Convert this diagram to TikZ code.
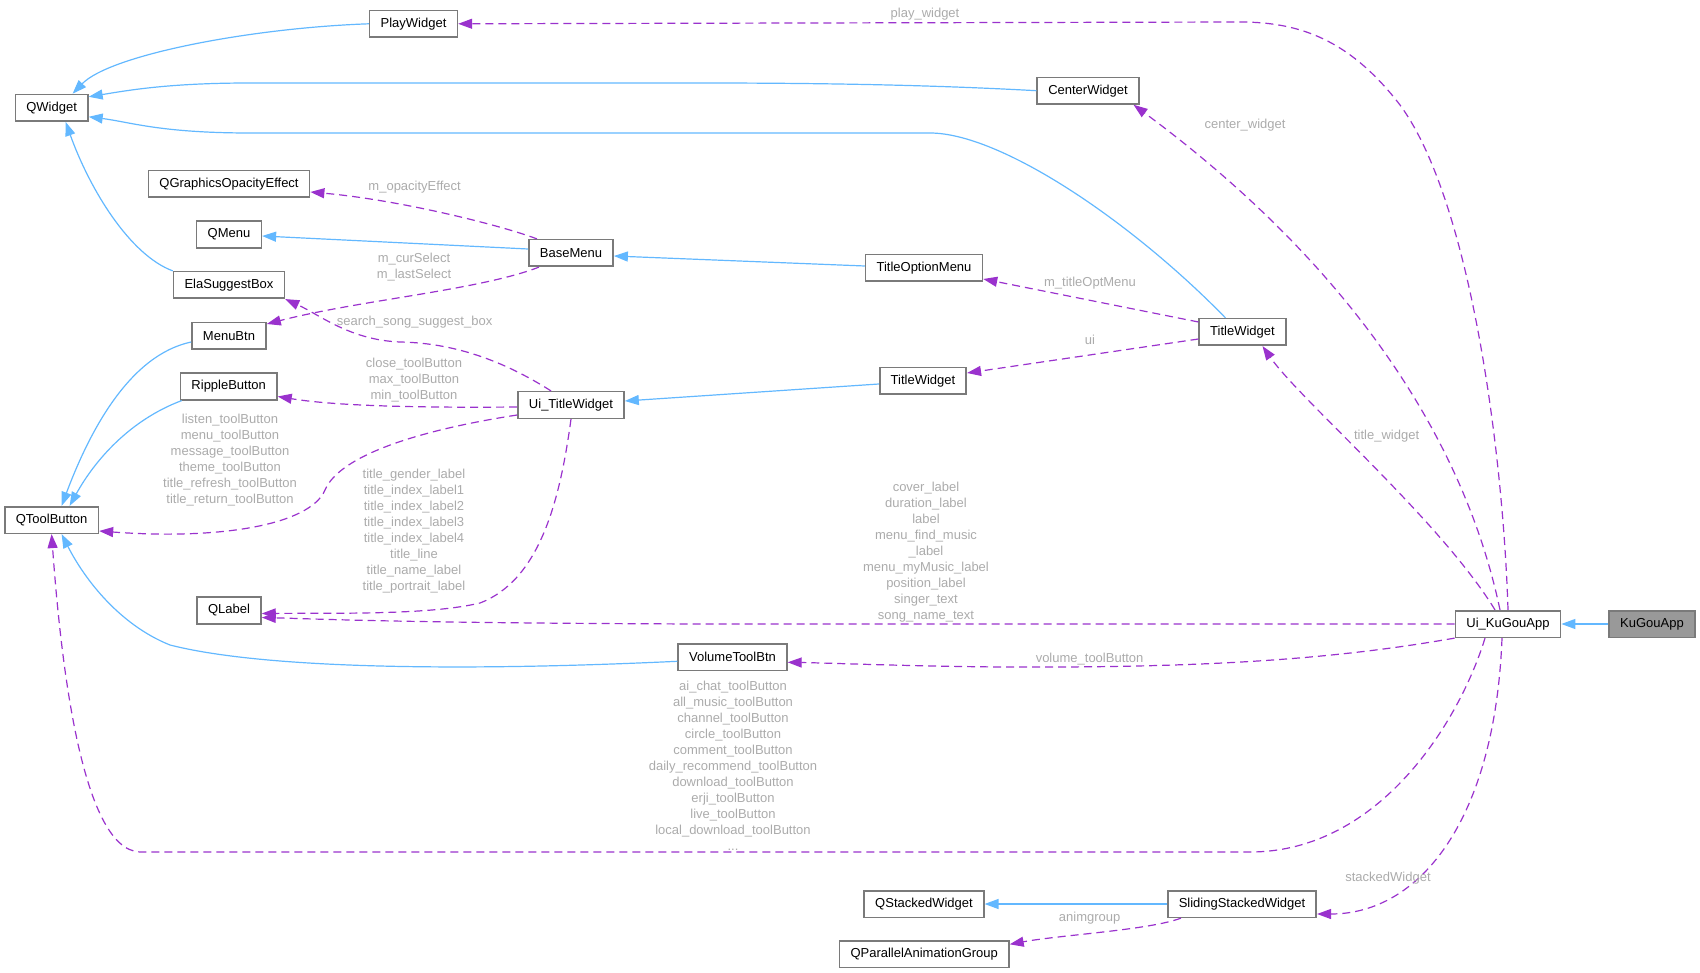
\documentclass[tikz,border=0pt]{standalone}
\usepackage{fontspec}
\setmainfont{Liberation Sans}
\usepackage{xcolor}
\usetikzlibrary{arrows.meta}

\definecolor{inhblue}{HTML}{63B8FF}
\definecolor{usepurple}{HTML}{9A32CD}
\definecolor{lblgrey}{HTML}{ABABAB}
\definecolor{boxedge}{HTML}{7A7A7A}
\definecolor{curfill}{HTML}{999999}

\begin{document}
\begin{tikzpicture}[
    x=1pt, y=-1pt,
    >={Triangle[length=14pt,width=10pt]},
    cls/.style={draw=boxedge, line width=1.6pt, fill=white,
                minimum height=26.6pt, inner xsep=11pt,
                font=\fontsize{13}{16}\selectfont},
    inh/.style={->, draw=inhblue, line width=1.2pt},
    use/.style={->, draw=usepurple, line width=1.2pt, dash pattern=on 8pt off 5pt},
    lbl/.style={text=lblgrey, align=center, inner sep=0pt,
                font=\fontsize{13}{16}\selectfont}
]
    \useasboundingbox (0,0) rectangle (1700,973);

    % classes
    \node[cls] (playW)     at (413.5,23.8)  {PlayWidget};
    \node[cls] (qwidget)   at (51.6,107.8)  {QWidget};
    \node[cls] (centerW)   at (1088,90.7)   {CenterWidget};
    \node[cls] (qgoe)      at (229,184)     {QGraphicsOpacityEffect};
    \node[cls] (qmenu)     at (229,234.5)   {QMenu};
    \node[cls] (baseMenu)  at (571,253)     {BaseMenu};
    \node[cls] (titleOpt)  at (924,268)     {TitleOptionMenu};
    \node[cls] (elaBox)    at (229,285)     {ElaSuggestBox};
    \node[cls] (menuBtn)   at (229,336)     {MenuBtn};
    \node[cls] (titleW)    at (1242.5,332)  {TitleWidget};
    \node[cls] (rippleBtn) at (228.7,386.5) {RippleButton};
    \node[cls] (titleWns)  at (923,381)     {TitleWidget};
    \node[cls] (uiTitle)   at (571,405)     {Ui\_TitleWidget};
    \node[cls] (qtoolBtn)  at (51.6,520)    {QToolButton};
    \node[cls] (qlabel)    at (229,610.5)   {QLabel};
    \node[cls] (uiKugou)   at (1508,624)    {Ui\_KuGouApp};
    \node[cls, fill=curfill] (kugou) at (1652,624) {KuGouApp};
    \node[cls] (volBtn)    at (732.5,657.3) {VolumeToolBtn};
    \node[cls] (qstacked)  at (924,904)     {QStackedWidget};
    \node[cls] (slideW)    at (1242,904)    {SlidingStackedWidget};
    \node[cls] (qpag)      at (924.2,954.3) {QParallelAnimationGroup};

    % inheritance
    \draw[inh] (playW.west) .. controls (250,28) and (110,55) .. ([xshift=21pt]qwidget.north);
    \draw[inh] (centerW.west) .. controls (950,86) and (850,83) .. (700,83) -- (250,83)
        .. controls (170,83) and (130,90) .. ([yshift=11pt]qwidget.east);
    \draw[inh] ([xshift=-17pt]titleW.north) .. controls (1130,220) and (1000,133) .. (930,133)
        -- (250,133) .. controls (160,133) and (130,122) .. ([yshift=-9pt]qwidget.east);
    \draw[inh] (elaBox.north west) .. controls (130,255) and (90,190) .. ([xshift=14pt]qwidget.south);
    \draw[inh] ([yshift=4pt]baseMenu.west) -- ([yshift=-1.5pt]qmenu.east);
    \draw[inh] ([yshift=2pt]titleOpt.west) -- ([yshift=-3pt]baseMenu.east);
    \draw[inh] ([yshift=-3pt]titleWns.west) -- ([yshift=4pt]uiTitle.east);
    \draw[inh] ([yshift=-6pt]menuBtn.west) .. controls (130,355) and (90,430) .. ([xshift=10pt]qtoolBtn.north);
    \draw[inh] ([xshift=2pt]rippleBtn.south west) .. controls (130,420) and (95,460) .. ([xshift=18pt]qtoolBtn.north);
    \draw[inh] ([yshift=-4pt]volBtn.west) .. controls (450,672) and (260,668) .. (170,645)
        .. controls (120,625) and (85,580) .. ([xshift=10pt]qtoolBtn.south);
    \draw[inh] (slideW.west) -- (qstacked.east);
    \draw[inh] (kugou.west) -- (uiKugou.east);

    % usage
    \draw[use] (uiKugou.north) .. controls (1503,450) and (1470,200) .. (1400,105)
        .. controls (1350,40) and (1300,22) .. (1240,22) -- (playW.east);
    \draw[use] ([xshift=-8pt]uiKugou.north) .. controls (1460,420) and (1330,250) .. ([xshift=-6pt]centerW.south east);
    \draw[use] ([xshift=-13pt]uiKugou.north) .. controls (1440,520) and (1300,400) .. ([xshift=20pt]titleW.south);
    \draw[use] (uiKugou.west) -- (700,624) .. controls (400,623) and (320,619) .. ([yshift=-7pt]qlabel.east);
    \draw[use] (uiKugou.south west) .. controls (1330,660) and (1200,668) .. (1000,667)
        .. controls (900,666) and (830,663) .. ([yshift=-5pt]volBtn.east);
    \draw[use] ([xshift=-23pt]uiKugou.south) .. controls (1460,720) and (1380,852) .. (1250,852)
        -- (140,852) .. controls (80,850) and (60,650) .. (qtoolBtn.south);
    \draw[use] ([xshift=-6pt]uiKugou.south) .. controls (1495,820) and (1420,914) .. ([yshift=-10pt]slideW.east);
    \draw[use] ([xshift=14pt]slideW.south west) .. controls (1150,930) and (1060,935) .. ([yshift=10pt]qpag.east);
    \draw[use] ([yshift=10pt]titleW.west) -- ([yshift=-11pt]titleOpt.east);
    \draw[use] ([yshift=-7pt]titleW.west) -- ([yshift=8pt]titleWns.east);
    \draw[use] ([xshift=-34pt]baseMenu.north) .. controls (500,225) and (400,200) .. ([yshift=-8pt]qgoe.east);
    \draw[use] ([xshift=-32pt]baseMenu.south) .. controls (480,290) and (360,300) .. ([yshift=12pt]menuBtn.east);
    \draw[use] ([xshift=-20pt]uiTitle.north) .. controls (510,365) and (460,343) .. (400,342)
        .. controls (350,340) and (320,315) .. (elaBox.south east);
    \draw[use] ([yshift=-2pt]uiTitle.west) .. controls (400,408) and (330,405) .. ([yshift=-10pt]rippleBtn.east);
    \draw[use] ([yshift=-10pt]uiTitle.west) .. controls (420,430) and (340,455) .. (325,490)
        .. controls (310,525) and (220,540) .. ([yshift=-11pt]qtoolBtn.east);
    \draw[use] (uiTitle.south) .. controls (560,500) and (540,580) .. (480,603)
        .. controls (430,615) and (340,613) .. ([yshift=-3pt]qlabel.east);

    % member names
    \node[lbl] (lPlay)   at (925,14)      {play\_widget};
    \node[lbl] (lCenter) at (1245,125)    {center\_widget};
    \node[lbl] (lTitle)  at (1386.6,436)  {title\_widget};
    \node[lbl] (lOpt)    at (1090,282.7)  {m\_titleOptMenu};
    \node[lbl] (lUi)     at (1090,340)    {ui};
    \node[lbl] (lOpac)   at (414.6,186.7) {m\_opacityEffect};
    \node[lbl] (lSel)    at (414,267.4)   {m\_curSelect\\m\_lastSelect};
    \node[lbl] (lSearch) at (414.6,322)   {search\_song\_suggest\_box};
    \node[lbl] (lRipple) at (414,380)     {close\_toolButton\\max\_toolButton\\min\_toolButton};
    \node[lbl] (lTool)   at (230,459.7)   {listen\_toolButton\\menu\_toolButton\\message\_toolButton\\
        theme\_toolButton\\title\_refresh\_toolButton\\title\_return\_toolButton};
    \node[lbl] (lTLabel) at (414,531)     {title\_gender\_label\\title\_index\_label1\\title\_index\_label2\\
        title\_index\_label3\\title\_index\_label4\\title\_line\\title\_name\_label\\title\_portrait\_label};
    \node[lbl] (lKLabel) at (926,551.7)   {cover\_label\\duration\_label\\label\\menu\_find\_music\\\_label\\
        menu\_myMusic\_label\\position\_label\\singer\_text\\song\_name\_text};
    \node[lbl] (lVol)    at (1089.6,658.7) {volume\_toolButton};
    \node[lbl] (lKTool)  at (733,765.7)   {ai\_chat\_toolButton\\all\_music\_toolButton\\channel\_toolButton\\
        circle\_toolButton\\comment\_toolButton\\daily\_recommend\_toolButton\\download\_toolButton\\
        erji\_toolButton\\live\_toolButton\\local\_download\_toolButton\\...};
    \node[lbl] (lStack)  at (1388,878)    {stackedWidget};
    \node[lbl] (lAnim)   at (1089.7,917.7) {animgroup};
\end{tikzpicture}
\end{document}
